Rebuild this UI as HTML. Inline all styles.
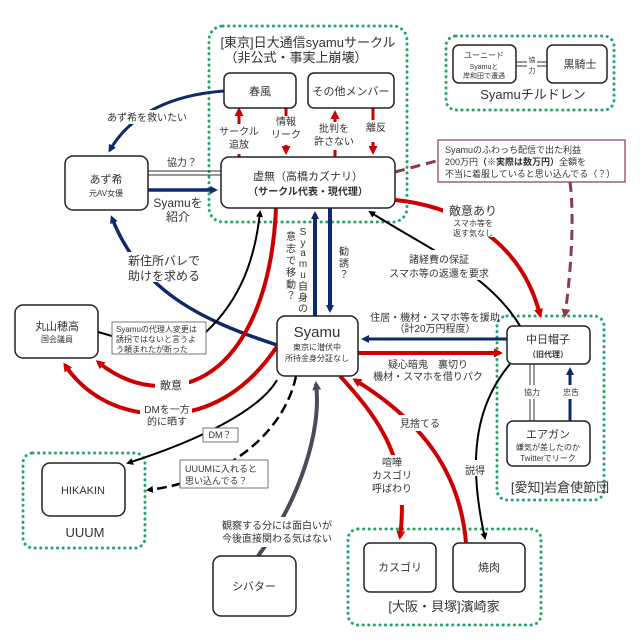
<!DOCTYPE html>
<html><head><meta charset="utf-8"><style>
html,body{margin:0;padding:0;background:#fff}
svg{display:block}
text{font-family:"Liberation Sans","Noto Sans CJK JP",sans-serif;fill:#333}
.b{fill:#fff;stroke:#222;stroke-width:1.5}
.g{fill:none;stroke:#1fa864;stroke-width:3;stroke-dasharray:0.1 5.5;stroke-linecap:round}
</style></head><body>
<svg width="640" height="640" viewBox="0 0 640 640" xmlns="http://www.w3.org/2000/svg">
<defs>
<marker id="an" markerWidth="8" markerHeight="8" refX="5" refY="4" orient="auto" markerUnits="userSpaceOnUse"><path d="M0,0 L8,4 L0,8 Z" fill="#0d2a6b"/></marker>
<marker id="ar" markerWidth="9" markerHeight="9" refX="6" refY="4.5" orient="auto" markerUnits="userSpaceOnUse"><path d="M0,0 L9,4.5 L0,9 Z" fill="#c00"/></marker>
<marker id="ak" markerWidth="7" markerHeight="7" refX="5" refY="3.5" orient="auto" markerUnits="userSpaceOnUse"><path d="M0,0 L7,3.5 L0,7 Z" fill="#000"/></marker>
<marker id="ad" markerWidth="9" markerHeight="9" refX="6" refY="4.5" orient="auto" markerUnits="userSpaceOnUse"><path d="M0,0 L9,4.5 L0,9 Z" fill="#8b3a4a"/></marker>
<marker id="ag" markerWidth="9" markerHeight="9" refX="6" refY="4.5" orient="auto" markerUnits="userSpaceOnUse"><path d="M0,0 L9,4.5 L0,9 Z" fill="#4a4a5a"/></marker>
</defs>

<rect class="g" x="209" y="26" width="198" height="196" rx="14"/>
<rect class="g" x="446" y="36" width="168" height="74" rx="10"/>
<rect class="g" x="497" y="316" width="107" height="184" rx="10"/>
<rect class="g" x="23" y="453" width="122" height="95" rx="10"/>
<rect class="g" x="348" y="529" width="193" height="96" rx="10"/>

<path d="M224,91 C170,95 130,115 110,150" fill="none" stroke="#0d2a6b" stroke-width="3" marker-end="url(#an)"/>
<line x1="148" y1="171" x2="221" y2="171" stroke="#333" stroke-width="1"/>
<line x1="148" y1="175" x2="221" y2="175" stroke="#333" stroke-width="1"/>
<line x1="148" y1="190" x2="215" y2="190" stroke="#0d2a6b" stroke-width="3.5" marker-end="url(#an)"/>
<path d="M277,345 C200,320 140,290 112,218" fill="none" stroke="#0d2a6b" stroke-width="3.5" marker-end="url(#an)"/>
<line x1="315" y1="316" x2="315" y2="214" stroke="#0d2a6b" stroke-width="4" marker-end="url(#an)"/>
<line x1="330" y1="208" x2="330" y2="310" stroke="#0d2a6b" stroke-width="4" marker-end="url(#an)"/>
<path d="M239,138 L239,157" stroke="#c00" stroke-width="3"/><path d="M239,124 L239,110" stroke="#c00" stroke-width="3" marker-end="url(#ar)"/>
<path d="M286,108 L286,116" stroke="#c00" stroke-width="3"/><path d="M286,145 L286,152" stroke="#c00" stroke-width="3" marker-end="url(#ar)"/>
<path d="M335,150 L335,157" stroke="#c00" stroke-width="3"/><path d="M335,122 L335,113" stroke="#c00" stroke-width="3" marker-end="url(#ar)"/>
<path d="M373,108 L373,120" stroke="#c00" stroke-width="3"/><path d="M373,142 L373,152" stroke="#c00" stroke-width="3" marker-end="url(#ar)"/>
<path d="M206,332 C240,300 255,260 260,212" fill="none" stroke="#000" stroke-width="2" marker-end="url(#ak)"/>
<path d="M98,332 L112,336" stroke="#000" stroke-width="2"/>
<path d="M276,208 C272,300 240,365 190,382 C150,393 120,380 98,362" fill="none" stroke="#c00" stroke-width="4" marker-end="url(#ar)"/>
<path d="M278,345 C245,395 205,412 170,414 C120,416 85,395 65,365" fill="none" stroke="#c00" stroke-width="4" marker-end="url(#ar)"/>
<path d="M395,200 C450,205 520,235 540,315" fill="none" stroke="#c00" stroke-width="4" marker-end="url(#ar)"/>
<path d="M395,172 L440,160" stroke="#8b3a4a" stroke-width="3" stroke-dasharray="10 6"/>
<path d="M570,182 C575,220 570,280 565,315" fill="none" stroke="#8b3a4a" stroke-width="3" stroke-dasharray="10 6" marker-end="url(#ad)"/>
<path d="M520,326 C490,275 430,250 370,212" fill="none" stroke="#000" stroke-width="2" marker-end="url(#ak)"/>
<line x1="507" y1="339" x2="364" y2="339" stroke="#0d2a6b" stroke-width="3" marker-end="url(#an)"/>
<line x1="358" y1="353" x2="500" y2="353" stroke="#c00" stroke-width="4" marker-end="url(#ar)"/>
<line x1="530" y1="364" x2="530" y2="421" stroke="#333" stroke-width="1"/><line x1="534" y1="364" x2="534" y2="421" stroke="#333" stroke-width="1"/>
<line x1="570" y1="421" x2="570" y2="370" stroke="#0d2a6b" stroke-width="3" marker-end="url(#an)"/>
<path d="M510,364 C480,400 465,450 485,538" fill="none" stroke="#000" stroke-width="2" marker-end="url(#ak)"/>
<path d="M340,376 C380,420 410,460 400,537" fill="none" stroke="#c00" stroke-width="4" marker-end="url(#ar)"/>
<path d="M466,543 C460,470 420,420 355,380" fill="none" stroke="#c00" stroke-width="4" marker-end="url(#ar)"/>
<path d="M277,380 C260,410 200,440 128,463" fill="none" stroke="#000" stroke-width="2" marker-end="url(#ak)"/>
<path d="M296,376 C285,430 230,480 148,490" fill="none" stroke="#000" stroke-width="2.5" stroke-dasharray="10 5" marker-end="url(#ak)"/>
<path d="M258,556 C300,500 322,430 316,384" fill="none" stroke="#4a4a5a" stroke-width="4" marker-end="url(#ag)"/>

<rect x="108" y="110" width="78" height="14" fill="#fff"/>
<rect x="125" y="252" width="78" height="30" fill="#fff"/>
<rect x="218" y="124" width="42" height="30" fill="#fff"/>
<rect x="266" y="116" width="38" height="28" fill="#fff"/>
<rect x="313" y="122" width="42" height="28" fill="#fff"/>
<rect x="365" y="120" width="22" height="14" fill="#fff"/>
<rect x="443" y="203" width="60" height="34" fill="#fff"/>
<rect x="390" y="250" width="98" height="30" fill="#fff"/>
<rect x="155" y="376" width="34" height="16" fill="#fff"/>
<rect x="140" y="403" width="52" height="28" fill="#fff"/>
<rect x="218" y="517" width="118" height="30" fill="#fff"/>
<rect x="372" y="455" width="40" height="50" fill="#fff"/>
<rect x="398" y="415" width="40" height="16" fill="#fff"/>
<rect x="461" y="460" width="28" height="16" fill="#fff"/>
<rect x="522" y="385" width="18" height="14" fill="#fff"/>
<rect x="562" y="385" width="18" height="14" fill="#fff"/>

<rect class="b" x="224" y="73" width="72" height="35" rx="6"/>
<rect class="b" x="308" y="73" width="86" height="35" rx="6"/>
<rect class="b" x="221" y="157" width="174" height="51" rx="8"/>
<rect class="b" x="453" y="45" width="63" height="38" rx="6"/>
<rect class="b" x="547" y="45" width="60" height="38" rx="6"/>
<rect x="438" y="140" width="187" height="42" fill="#fff" stroke="#8b3a4a" stroke-width="1.2"/>
<rect class="b" x="65" y="156" width="83" height="54" rx="8"/>
<rect class="b" x="277" y="316" width="81" height="60" rx="8"/>
<rect class="b" x="15" y="305" width="83" height="53" rx="8"/>
<rect x="112" y="322" width="94" height="32" fill="#fff" stroke="#777" stroke-width="1"/>
<rect class="b" x="42" y="463" width="83" height="53" rx="8"/>
<rect x="203" y="428" width="35" height="14" fill="#fff" stroke="#777" stroke-width="1"/>
<rect x="180" y="460" width="88" height="28" fill="#fff" stroke="#777" stroke-width="1"/>
<rect class="b" x="213" y="556" width="83" height="60" rx="8"/>
<rect class="b" x="507" y="326" width="83" height="38" rx="6"/>
<rect class="b" x="507" y="421" width="83" height="45" rx="6"/>
<rect class="b" x="364" y="543" width="72" height="49" rx="6"/>
<rect class="b" x="453" y="543" width="72" height="49" rx="6"/>
<line x1="516" y1="62" x2="527" y2="62" stroke="#333"/><line x1="516" y1="66" x2="527" y2="66" stroke="#333"/>
<line x1="537" y1="62" x2="547" y2="62" stroke="#333"/><line x1="537" y1="66" x2="547" y2="66" stroke="#333"/>

<g font-size="13" text-anchor="middle">
<text x="308" y="47">[東京]日大通信syamuサークル</text>
<text x="296" y="62">（非公式・事実上崩壊）</text>
<text x="533" y="99">Syamuチルドレン</text>
<text x="560" y="492">[愛知]岩倉使節団</text>
<text x="444" y="611">[大阪・貝塚]濱崎家</text>
<text x="85" y="537">UUUM</text>
</g>
<g font-size="11" text-anchor="middle">
<text x="260" y="95">春風</text>
<text x="351" y="95">その他メンバー</text>
<text x="308" y="180">虚無（高橋カズナリ）</text>
<text x="308" y="195" font-weight="bold" font-size="10">（サークル代表・現代理）</text>
<text x="580" y="68">黒騎士</text>
<text x="106" y="183">あず希</text>
<text x="57" y="330">丸山穂高</text>
<text x="83" y="494">HIKAKIN</text>
<text x="254" y="590">シバター</text>
<text x="548" y="343">中日帽子</text>
<text x="548" y="438">エアガン</text>
<text x="400" y="571">カスゴリ</text>
<text x="489" y="571">焼肉</text>
</g>
<text x="317" y="337" font-size="15" text-anchor="middle">Syamu</text>
<g font-size="8" text-anchor="middle">
<text x="317" y="350">東京に潜伏中</text>
<text x="317" y="361">所持金身分証なし</text>
<text x="106" y="196">元AV女優</text>
<text x="57" y="342">国会議員</text>
<text x="548" y="357" font-weight="bold">（旧代理）</text>
<text x="548" y="450">嫌気が差したのか</text>
<text x="548" y="461">Twitterでリーク</text>
<text x="484" y="58">ユーニード</text>
<text x="484" y="69" font-size="7">Syamuと</text>
<text x="484" y="78" font-size="7">岸和田で遭遇</text>
<text x="532" y="62" font-size="7">協</text>
<text x="532" y="73" font-size="7">力</text>
<text x="532" y="395">協力</text>
<text x="571" y="395">忠告</text>
<text x="473" y="226">スマホ等を</text>
<text x="473" y="236">返す気なし</text>
</g>
<g font-size="10" text-anchor="middle">
<text x="147" y="121">あず希を救いたい</text>
<text x="182" y="166">協力？</text>
<text x="178" y="207" font-size="12">Syamuを</text>
<text x="178" y="221" font-size="12">紹介</text>
<text x="164" y="265" font-size="12">新住所バレで</text>
<text x="164" y="280" font-size="12">助けを求める</text>
<text x="239" y="135">サークル</text>
<text x="239" y="148">追放</text>
<text x="286" y="125">情報</text>
<text x="286" y="138">リーク</text>
<text x="334" y="132">批判を</text>
<text x="334" y="145">許さない</text>
<text x="376" y="131">離反</text>
<text x="473" y="215" font-size="12">敵意あり</text>
<text x="439" y="263">諸経費の保証</text>
<text x="439" y="277">スマホ等の返還を要求</text>
<text x="435" y="321">住居・機材・スマホ等を援助</text>
<text x="435" y="332">（計20万円程度）</text>
<text x="428" y="368">疑心暗鬼　裏切り</text>
<text x="428" y="380">機材・スマホを借りパク</text>
<text x="171" y="389" font-size="11">敵意</text>
<text x="167" y="413">DMを一方</text>
<text x="167" y="425">的に晒す</text>
<text x="220" y="438" font-size="9">DM？</text>
<text x="420" y="427">見捨てる</text>
<text x="392" y="466">喧嘩</text>
<text x="392" y="479">カスゴリ</text>
<text x="392" y="492">呼ばわり</text>
<text x="475" y="474">説得</text>
<text x="277" y="529">観察する分には面白いが</text>
<text x="277" y="542">今後直接関わる気はない</text>
<text x="344" y="255">勧</text><text x="344" y="267">誘</text><text x="344" y="278">？</text>
</g>
<g font-size="10" text-anchor="middle">
<text x="303" y="235">S</text><text x="303" y="246">y</text><text x="303" y="256">a</text><text x="303" y="267">m</text><text x="303" y="278">u</text><text x="303" y="290">自</text><text x="303" y="301">身</text><text x="303" y="312">の</text>
<text x="291" y="240">意</text><text x="291" y="252">志</text><text x="291" y="264">で</text><text x="291" y="276">移</text><text x="291" y="288">動</text><text x="291" y="299">？</text>
</g>
<g font-size="9">
<text x="445" y="153">Syamuのふわっち配信で出た利益</text>
<text x="445" y="165">200万円<tspan font-weight="bold">（※実際は数万円）</tspan>全額を</text>
<text x="445" y="177">不当に着服していると思い込んでる（？）</text>
<text x="116" y="332" font-size="8">Syamuの代理人変更は</text>
<text x="116" y="342" font-size="8">誘拐ではないと言うよ</text>
<text x="116" y="352" font-size="8">う頼まれたが断った</text>
<text x="185" y="472">UUUMに入れると</text>
<text x="185" y="484">思い込んでる？</text>
</g>
</svg>
</body></html>
